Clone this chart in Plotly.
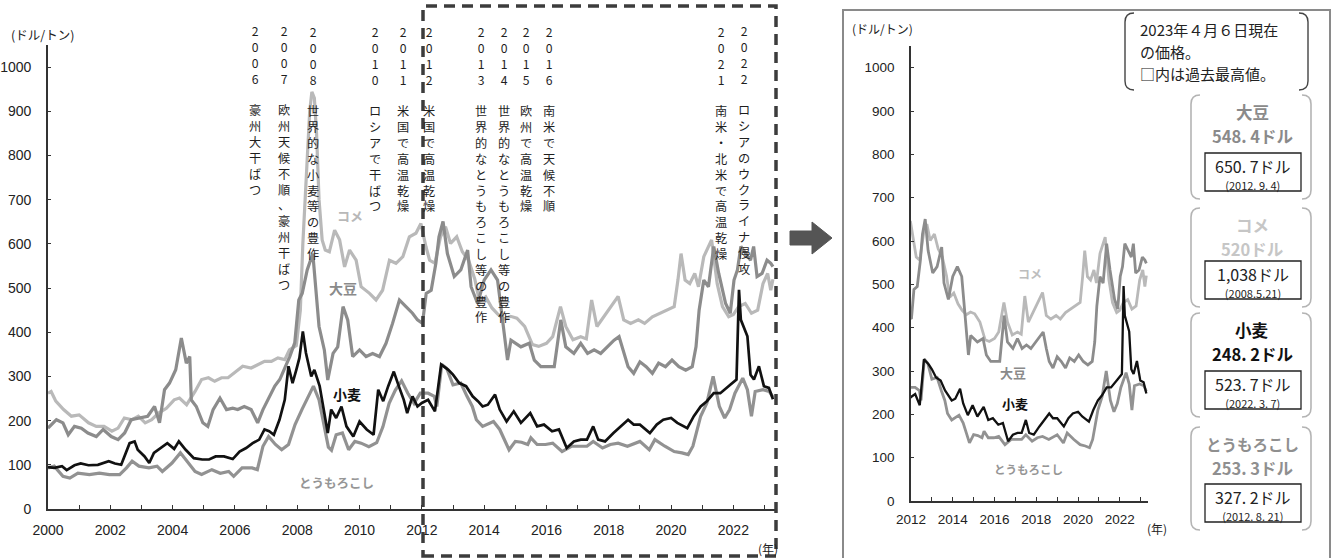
import plotly.graph_objects as go

W, H = 1336, 558
JP = "Noto Sans CJK JP"
NUM = "Liberation Sans, Arial"

# ---------------- price series (decimal year, USD per tonne) ----------------
wheat_t = [2000.00, 2000.20, 2000.45, 2000.60, 2000.85, 2001.05, 2001.30, 2001.60, 2001.95, 2002.15,
           2002.35, 2002.50, 2002.62, 2002.78, 2002.88, 2003.10, 2003.25, 2003.40, 2003.62, 2003.83,
           2004.05, 2004.20, 2004.42, 2004.68, 2004.95, 2005.17, 2005.38, 2005.65, 2005.93, 2006.15,
           2006.36, 2006.57, 2006.78, 2006.95, 2007.10, 2007.25, 2007.43, 2007.60, 2007.72, 2007.85,
           2007.97, 2008.07, 2008.18, 2008.28, 2008.45, 2008.55, 2008.72, 2008.88, 2008.98, 2009.09,
           2009.25, 2009.42, 2009.58, 2009.80, 2010.00, 2010.23, 2010.45, 2010.60, 2010.76, 2010.92,
           2011.10, 2011.26, 2011.42, 2011.53, 2011.70, 2011.86, 2012.00, 2012.20, 2012.42, 2012.62,
           2012.85, 2013.00, 2013.20, 2013.42, 2013.63, 2013.80, 2013.95, 2014.12, 2014.35, 2014.50,
           2014.72, 2014.95, 2015.18, 2015.48, 2015.70, 2015.92, 2016.18, 2016.40, 2016.65, 2016.88,
           2017.10, 2017.30, 2017.50, 2017.66, 2017.88, 2018.15, 2018.38, 2018.62, 2018.80, 2019.00,
           2019.32, 2019.54, 2019.75, 2020.00, 2020.20, 2020.52, 2020.73, 2020.95, 2021.15, 2021.37,
           2021.58, 2021.73, 2021.90, 2022.10, 2022.18, 2022.24, 2022.35, 2022.45, 2022.55, 2022.66,
           2022.82, 2022.98, 2023.14, 2023.27]
wheat_v = [95, 93, 97, 88, 99, 103, 99, 100, 108, 103,
           100, 127, 149, 153, 134, 119, 104, 127, 138, 149,
           136, 153, 134, 115, 112, 112, 119, 119, 113, 130,
           138, 149, 157, 180, 176, 168, 202, 247, 323, 285,
           315, 342, 402, 353, 300, 315, 278, 217, 172, 225,
           206, 232, 187, 164, 198, 180, 168, 270, 244, 278,
           311, 278, 247, 217, 255, 232, 240, 247, 221, 327,
           315, 304, 285, 278, 255, 244, 232, 236, 259, 225,
           198, 221, 195, 217, 187, 191, 176, 180, 138, 153,
           157, 157, 187, 157, 153, 172, 187, 202, 191, 191,
           172, 191, 202, 206, 195, 183, 210, 232, 244, 262,
           262, 270, 281, 293, 496, 428, 406, 391, 304, 293,
           323, 278, 274, 248.2]

corn_t = [2000.00, 2000.20, 2000.48, 2000.70, 2000.96, 2001.33, 2001.65, 2001.97, 2002.30, 2002.52,
          2002.70, 2002.92, 2003.24, 2003.50, 2003.67, 2003.98, 2004.25, 2004.45, 2004.72, 2004.93,
          2005.26, 2005.53, 2005.80, 2005.96, 2006.23, 2006.55, 2006.72, 2006.90, 2007.08, 2007.30,
          2007.50, 2007.72, 2007.93, 2008.15, 2008.36, 2008.52, 2008.70, 2008.85, 2009.00, 2009.10,
          2009.25, 2009.45, 2009.65, 2009.85, 2010.05, 2010.30, 2010.55, 2010.75, 2010.95, 2011.15,
          2011.35, 2011.55, 2011.75, 2011.95, 2012.20, 2012.40, 2012.48, 2012.64, 2012.80, 2013.00,
          2013.25, 2013.45, 2013.62, 2013.75, 2013.95, 2014.30, 2014.50, 2014.80, 2015.00, 2015.20,
          2015.40, 2015.50, 2015.70, 2015.97, 2016.20, 2016.50, 2016.80, 2017.05, 2017.30, 2017.50,
          2017.80, 2018.05, 2018.30, 2018.60, 2019.00, 2019.30, 2019.48, 2019.80, 2020.10, 2020.35,
          2020.55, 2020.70, 2020.95, 2021.15, 2021.35, 2021.55, 2021.72, 2021.88, 2022.05, 2022.30,
          2022.45, 2022.58, 2022.70, 2022.95, 2023.15, 2023.27]
corn_v = [93, 97, 74, 70, 81, 78, 81, 78, 78, 93,
          108, 97, 93, 97, 85, 104, 127, 108, 85, 78,
          89, 81, 85, 74, 93, 93, 89, 142, 164, 146,
          134, 146, 191, 225, 255, 278, 247, 195, 140, 133,
          168, 172, 134, 153, 149, 141, 150, 186, 239, 269,
          290, 262, 239, 262, 262, 255, 232, 327.2, 318, 281,
          285, 255, 232, 202, 187, 198, 180, 134, 153, 151,
          146, 161, 146, 146, 149, 130, 142, 142, 142, 153,
          138, 146, 149, 142, 153, 134, 157, 142, 130, 127,
          123, 142, 210, 240, 300, 232, 206, 225, 262, 296,
          270, 210, 266, 270, 266, 253.3]

soy_t = [2000.00, 2000.27, 2000.48, 2000.65, 2000.85, 2001.07, 2001.28, 2001.55, 2001.77, 2002.03,
         2002.25, 2002.46, 2002.67, 2002.94, 2003.20, 2003.42, 2003.58, 2003.74, 2003.90, 2004.10,
         2004.28, 2004.44, 2004.55, 2004.60, 2004.76, 2004.97, 2005.13, 2005.30, 2005.52, 2005.73,
         2005.93, 2006.09, 2006.30, 2006.52, 2006.73, 2006.90, 2007.06, 2007.28, 2007.44, 2007.60,
         2007.76, 2007.92, 2008.05, 2008.16, 2008.32, 2008.50, 2008.60, 2008.70, 2008.87, 2008.98,
         2009.15, 2009.30, 2009.47, 2009.62, 2009.78, 2010.00, 2010.21, 2010.42, 2010.64, 2010.85,
         2011.06, 2011.28, 2011.49, 2011.70, 2011.86, 2012.02, 2012.14, 2012.30, 2012.45, 2012.55,
         2012.68, 2012.82, 2013.04, 2013.25, 2013.47, 2013.58, 2013.79, 2014.00, 2014.22, 2014.43,
         2014.59, 2014.75, 2014.86, 2015.18, 2015.45, 2015.61, 2015.82, 2016.03, 2016.25, 2016.46,
         2016.62, 2016.88, 2017.10, 2017.32, 2017.53, 2017.74, 2017.96, 2018.17, 2018.33, 2018.48,
         2018.62, 2018.80, 2019.00, 2019.20, 2019.40, 2019.60, 2019.82, 2020.03, 2020.25, 2020.47,
         2020.68, 2020.80, 2020.90, 2021.05, 2021.20, 2021.37, 2021.53, 2021.75, 2021.90, 2022.02,
         2022.13, 2022.24, 2022.39, 2022.55, 2022.65, 2022.76, 2022.92, 2023.08, 2023.20, 2023.27]
soy_v = [183, 202, 195, 168, 187, 183, 172, 164, 180, 164,
         157, 172, 202, 206, 210, 232, 195, 270, 285, 315,
         387, 330, 345, 247, 232, 195, 187, 225, 251, 225,
         228, 225, 232, 225, 195, 225, 247, 278, 293, 319,
         345, 376, 473, 488, 541, 578, 488, 413, 360, 292,
         352, 367, 458, 428, 345, 360, 345, 352, 345, 375,
         420, 473, 458, 443, 428, 420, 488, 495, 556, 616,
         650.7, 578, 526, 541, 586, 503, 465, 518, 541, 518,
         428, 337, 382, 367, 375, 337, 322, 322, 322, 428,
         367, 352, 375, 352, 360, 352, 367, 382, 390, 352,
         322, 307, 333, 322, 307, 330, 322, 337, 322, 314,
         322, 367, 450, 518, 503, 594, 533, 465, 443, 518,
         541, 594, 578, 563, 594, 526, 533, 563, 556, 548.4]

rice_t = [2000.00, 2000.10, 2000.25, 2000.50, 2000.75, 2001.00, 2001.30, 2001.55, 2001.80, 2002.05,
          2002.25, 2002.45, 2002.70, 2002.90, 2003.12, 2003.33, 2003.55, 2003.80, 2004.05, 2004.22,
          2004.45, 2004.72, 2004.93, 2005.15, 2005.35, 2005.57, 2005.78, 2005.99, 2006.25, 2006.52,
          2006.73, 2006.95, 2007.17, 2007.38, 2007.60, 2007.75, 2007.97, 2008.10, 2008.18, 2008.30,
          2008.40, 2008.47, 2008.55, 2008.62, 2008.70, 2008.80, 2008.90, 2009.03, 2009.20, 2009.36,
          2009.52, 2009.68, 2009.89, 2010.05, 2010.32, 2010.53, 2010.74, 2010.96, 2011.17, 2011.39,
          2011.60, 2011.81, 2011.97, 2012.13, 2012.25, 2012.42, 2012.60, 2012.76, 2012.92, 2013.12,
          2013.30, 2013.50, 2013.70, 2013.85, 2014.05, 2014.25, 2014.45, 2014.65, 2014.85, 2015.05,
          2015.30, 2015.55, 2015.75, 2016.00, 2016.20, 2016.45, 2016.62, 2016.85, 2017.10, 2017.28,
          2017.45, 2017.62, 2017.85, 2018.05, 2018.30, 2018.48, 2018.70, 2018.95, 2019.15, 2019.40,
          2019.65, 2019.90, 2020.10, 2020.22, 2020.32, 2020.45, 2020.60, 2020.76, 2020.88, 2021.05,
          2021.30, 2021.48, 2021.65, 2021.85, 2022.00, 2022.17, 2022.38, 2022.58, 2022.78, 2022.95,
          2023.10, 2023.20, 2023.27]
rice_v = [262, 266, 244, 225, 210, 213, 195, 187, 187, 176,
          183, 206, 202, 210, 195, 202, 217, 228, 247, 251,
          236, 266, 293, 297, 289, 297, 297, 308, 323, 319,
          327, 334, 334, 342, 338, 360, 370, 450, 600, 760,
          900, 944, 930, 850, 700, 609, 586, 582, 631, 609,
          548, 586, 563, 503, 488, 473, 495, 563, 556, 571,
          616, 624, 646, 594, 563, 556, 616, 639, 601, 616,
          582, 563, 520, 470, 480, 455, 440, 430, 436, 432,
          413, 372, 368, 375, 390, 458, 413, 383, 390, 385,
          473, 413, 436, 458, 481, 428, 420, 428, 420, 435,
          443, 450, 458, 518, 578, 518, 510, 533, 503, 571,
          609, 510, 458, 435, 440, 458, 465, 443, 450, 510,
          533, 495, 520]

series_names = ["コメ", "大豆", "とうもろこし", "小麦"]
series_t = [rice_t, soy_t, corn_t, wheat_t]
series_v = [rice_v, soy_v, corn_v, wheat_v]
series_color = ["#b9b9b9", "#8c8c8c", "#929292", "#111111"]
series_width = [3.2, 3.2, 3.2, 2.7]

y_ticks = [0, 100, 200, 300, 400, 500, 600, 700, 800, 900, 1000]

# events written as vertical captions above the long-run chart
event_years = ["2006", "2007", "2008", "2010", "2011", "2012", "2013", "2014",
               "2015", "2016", "2021", "2022"]
event_texts = ["豪州大干ばつ", "欧州天候不順、豪州干ばつ", "世界的な小麦等の豊作", "ロシアで干ばつ",
               "米国で高温乾燥", "米国で高温乾燥", "世界的なとうもろこし等の豊作",
               "世界的なとうもろこし等の豊作", "欧州で高温乾燥", "南米で天候不順",
               "南米・北米で高温乾燥", "ロシアのウクライナ侵攻"]
event_x_px = [255, 284, 313, 375, 403, 429, 481, 504, 526, 549, 721, 744]

# current prices and record highs shown in the side boxes
box_names = ["大豆", "コメ", "小麦", "とうもろこし"]
box_now = ["548. 4ドル", "520ドル", "248. 2ドル", "253. 3ドル"]
box_max = ["650. 7ドル", "1,038ドル", "523. 7ドル", "327. 2ドル"]
box_max_date = ["(2012. 9. 4)", "(2008.5.21)", "(2022. 3. 7)", "(2012. 8. 21)"]
box_color = ["#8a8a8a", "#c6c6c6", "#111111", "#8f8f8f"]
box_top_px = [95, 208, 313, 427]
box_bot_px = [199, 307, 417, 530]

note_lines = ["2023年４月６日現在", "の価格。", "□内は過去最高値。"]


def px(x):
    return x / W


def py(y):
    return 1 - y / H


fig = go.Figure()

for name, t, v, c, w in zip(series_names, series_t, series_v, series_color, series_width):
    fig.add_trace(go.Scatter(x=t, y=v, mode="lines", name=name, showlegend=False,
                             line=dict(color=c, width=w), xaxis="x", yaxis="y"))
    fig.add_trace(go.Scatter(x=t, y=v, mode="lines", name=name, showlegend=False,
                             line=dict(color=c, width=w - 0.4), xaxis="x2", yaxis="y2"))

axis_common = dict(showgrid=False, zeroline=False, showline=True, linecolor="#333333",
                   linewidth=1.6, tickcolor="#333333", mirror=False, automargin=False)

fig.update_layout(
    width=W, height=H, autosize=False,
    margin=dict(l=0, r=0, t=0, b=0, pad=0, autoexpand=False),
    paper_bgcolor="white", plot_bgcolor="white",
    font=dict(family=JP, color="#222222"),
    xaxis=dict(domain=[px(48), px(777)], range=[2000, 2023.4], tick0=2000, dtick=2,
               ticks="inside", ticklen=4, tickformat="d",
               minor=dict(dtick=1, tick0=2000, ticks="inside", ticklen=4, tickcolor="#333333"),
               tickfont=dict(family=NUM, size=14, color="#222"), ticklabelstandoff=7,
               anchor="y", **axis_common),
    yaxis=dict(domain=[py(509), py(45)], range=[0, 1050], tickvals=y_ticks,
               ticks="inside", ticklen=3,
               tickfont=dict(family=NUM, size=14, color="#222"), ticklabelstandoff=12,
               anchor="x", **axis_common),
    xaxis2=dict(domain=[px(911), px(1148)], range=[2012, 2023.35], tick0=2012, dtick=2,
                ticks="inside", ticklen=4, tickformat="d",
                minor=dict(dtick=1, tick0=2012, ticks="inside", ticklen=4, tickcolor="#333333"),
                tickfont=dict(family=NUM, size=13.5, color="#222"), ticklabelstandoff=5,
                anchor="y2", **axis_common),
    yaxis2=dict(domain=[py(501), py(46)], range=[0, 1050], tickvals=y_ticks,
                ticks="inside", ticklen=3,
                tickfont=dict(family=NUM, size=13.5, color="#222"), ticklabelstandoff=12,
                anchor="x2", **axis_common),
)

shapes = []
annotations = []


def text(x, y, s, size, color, bold=False, xanchor="center", family=JP, align="center"):
    annotations.append(dict(xref="paper", yref="paper", x=px(x), y=py(y),
                            text=f"<b>{s}</b>" if bold else s, showarrow=False,
                            xanchor=xanchor, yanchor="middle", align=align, borderpad=0,
                            font=dict(size=size, color=color, family=family)))


def bracket_box(x0, y0, x1, y1, color, width, r=9):
    left = (f"M {px(x0 + r)},{py(y0)} Q {px(x0)},{py(y0)} {px(x0)},{py(y0 + r)} "
            f"L {px(x0)},{py(y1 - r)} Q {px(x0)},{py(y1)} {px(x0 + r)},{py(y1)}")
    right = (f"M {px(x1 - r)},{py(y0)} Q {px(x1)},{py(y0)} {px(x1)},{py(y0 + r)} "
             f"L {px(x1)},{py(y1 - r)} Q {px(x1)},{py(y1)} {px(x1 - r)},{py(y1)}")
    for p in (left, right):
        shapes.append(dict(type="path", xref="paper", yref="paper", path=p,
                           line=dict(color=color, width=width)))


# dashed frame marking the 2012- period that is enlarged on the right
shapes.append(dict(type="rect", xref="paper", yref="paper",
                   x0=px(423), x1=px(776), y0=py(556), y1=py(6),
                   line=dict(color="#3c3c3c", width=3.5, dash="11px,7px")))

# arrow between the two panels
arrow = (f"M {px(790)},{py(231)} L {px(812)},{py(231)} L {px(812)},{py(222)} "
         f"L {px(832)},{py(238)} L {px(812)},{py(254)} L {px(812)},{py(245)} "
         f"L {px(790)},{py(245)} Z")
shapes.append(dict(type="path", xref="paper", yref="paper", path=arrow,
                   fillcolor="#555555", line=dict(color="#555555", width=1)))

# outer frame of the right panel
shapes.append(dict(type="rect", xref="paper", yref="paper",
                   x0=px(843), x1=px(1330), y0=py(566), y1=py(10),
                   line=dict(color="#8a8a8a", width=2)))

# note box
bracket_box(1125, 13, 1308, 90, "#444444", 1.4)
for i, line in enumerate(note_lines):
    text(1139, 29.5 + i * 21.8, line, 15, "#222222", xanchor="left", align="left")

# side boxes: current price and record high
for i in range(4):
    top, bot = box_top_px[i], box_bot_px[i]
    bracket_box(1191, top, 1311, bot, "#b4b4b4", 1.6)
    shapes.append(dict(type="rect", xref="paper", yref="paper",
                       x0=px(1205), x1=px(1301), y0=py(bot - 8), y1=py(bot - 46),
                       fillcolor="white", line=dict(color="#222222", width=1.3)))
    name_size = 15.5 if box_names[i] == "とうもろこし" else 16.5
    text(1252, top + 17, box_names[i], name_size, box_color[i], bold=True)
    text(1252, top + 41, box_now[i], 16.5, box_color[i], bold=True)
    rec = (f"<span style='font-size:16px'>{box_max[i]}</span><br>"
           f"<span style='font-size:11px'>{box_max_date[i]}</span>")
    text(1253, bot - 26, rec, 13, "#222222")

# unit and year captions
text(42, 35, "(ドル/トン)", 12.5, "#222222")
text(883, 28, "(ドル/トン)", 12, "#222222")
text(768, 548, "(年)", 12, "#222222")
text(1157, 528, "(年)", 12, "#222222")

# series captions, long-run chart
text(350, 215, "コメ", 13, "#b8b8b8", bold=True)
text(343, 288, "大豆", 14, "#8a8a8a", bold=True)
text(347, 394, "小麦", 14, "#111111", bold=True)
text(337, 482, "とうもろこし", 12.5, "#969696", bold=True)

# series captions, enlarged chart
text(1030, 273, "コメ", 12, "#bdbdbd", bold=True)
text(1013, 372, "大豆", 13, "#8a8a8a", bold=True)
text(1015, 403, "小麦", 13, "#111111", bold=True)
text(1028, 469, "とうもろこし", 11.5, "#969696", bold=True)

# vertical event captions: one glyph per line
col_size = 12.2
line_gap = 1.3 * col_size
for yr, label, x in zip(event_years, event_texts, event_x_px):
    glyphs = list(yr) + ["\u00a0"] + list(label)
    centre = 31.5 + (len(glyphs) - 1) * line_gap / 2
    text(x, centre, "<br>".join(glyphs), col_size, "#1e1e1e")

fig.update_layout(shapes=shapes, annotations=annotations)
fig.write_html("out.html")
